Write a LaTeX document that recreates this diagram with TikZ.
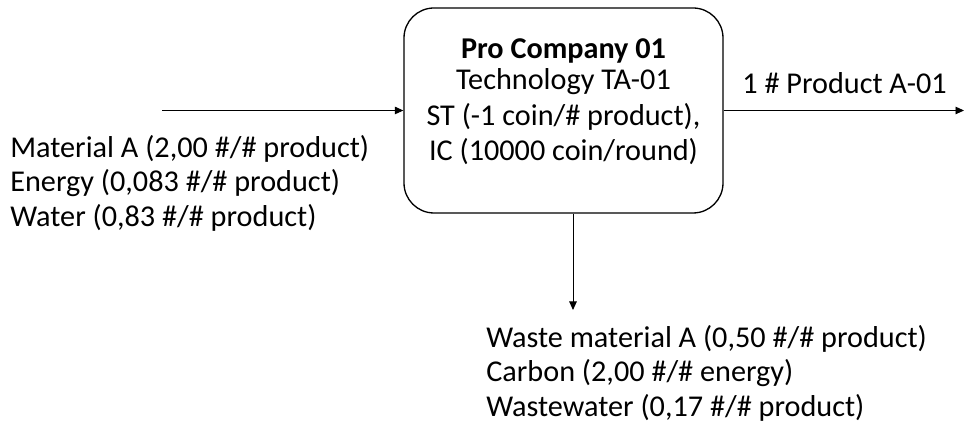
\documentclass[tikz,border=0pt]{standalone}
\usepackage{fontspec}
\setmainfont{Carlito}
\usepackage{tikz}
\usetikzlibrary{positioning,arrows.meta}

\begin{document}
\begin{tikzpicture}[
  font=\fontsize{17.2}{19.6}\selectfont,
  procbox/.style={draw, line width=0.75pt, rounded corners=0.6cm,
                  minimum width=6.38cm, minimum height=4.1cm},
  lbl/.style={inner sep=0pt, align=left, anchor=west},
  ar/.style={-{Triangle[length=1.7mm, width=1.5mm]}, line width=0.55pt},
]
\useasboundingbox (0,0) rectangle (19.28,8.5);

% process box
\node[procbox] (pro) at (11.27,6.29) {};
\node[align=center, inner sep=0pt, font=\fontsize{17.2}{20}\selectfont]
  (protxt) at (11.27,6.47)
  {\textbf{Pro Company 01}\\[-2pt]
   Technology TA-01\\ ST (-1 coin/\# product),\\ IC (10000 coin/round)};

% input
\coordinate (in) at (3.24,6.29);
\draw[ar] (in) -- (pro.west);
\node[lbl] (inputs) at (0.2,4.84)
  {Material A (2,00 \#/\# product)\\ Energy (0,083 \#/\# product)\\
   Water (0,83 \#/\# product)};

% output
\coordinate (out) at (19.28,6.29);
\draw[ar] (pro.east) -- (out);
\node[lbl] (prod) at (14.84,6.84) {1 \# Product A-01};

% waste
\coordinate (waste) at (11.46,2.3);
\draw[ar] (pro.south -| waste) -- (waste);
\node[lbl] (wastes) at (9.72,1.04)
  {Waste material A (0,50 \#/\# product)\\ Carbon (2,00 \#/\# energy)\\
   Wastewater (0,17 \#/\# product)};
\end{tikzpicture}
\end{document}
